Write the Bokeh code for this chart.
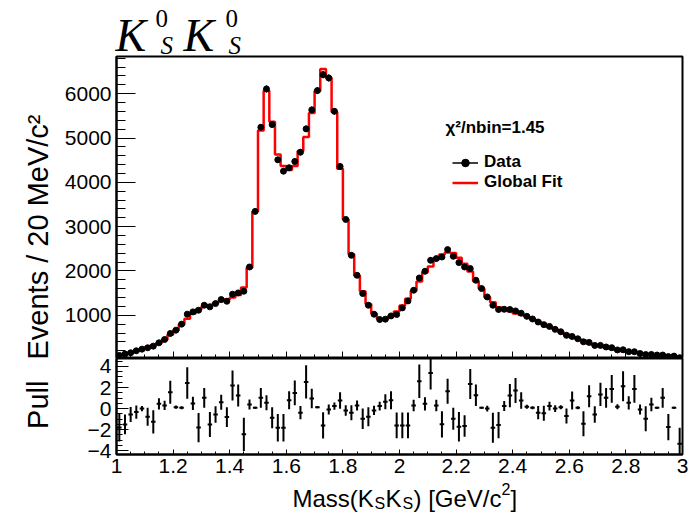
import numpy as np
from bokeh.plotting import figure
from bokeh.layouts import column, row
from bokeh.models import (Label, Range1d, SingleIntervalTicker, ColumnDataSource,
                          Legend, LegendItem, CustomJSTickFormatter)
from bokeh.embed import file_html
from bokeh.resources import INLINE

# ---------------- data ----------------
x_lo, x_hi, bin_w = 1.0, 3.0, 0.02

data_counts = [95, 124, 154, 199, 236, 267, 304, 379, 454, 589,
               664, 800, 1025, 1077, 1115, 1227, 1190, 1265, 1355, 1317,
               1475, 1505, 1543, 2090, 3345, 5243, 6108, 5304, 4509, 4252,
               4329, 4471, 4680, 5207, 5635, 6070, 6430, 6356, 5604, 4358,
               3164, 2354, 1903, 1491, 1227, 1025, 905, 912, 986, 1018,
               1167, 1324, 1565, 1842, 1993, 2241, 2279, 2315, 2482, 2331,
               2189, 2090, 2054, 1791, 1604, 1414, 1227, 1131, 1136, 1131,
               1099, 1047, 977, 917, 849, 789, 749, 683, 628, 548,
               522, 470, 402, 388, 320, 321, 285, 269, 218, 222,
               180, 178, 138, 114, 117, 103, 103, 69, 79, 44]

fit_counts = [110, 138, 162, 200, 236, 278, 322, 375, 450, 560,
              660, 790, 920, 1040, 1130, 1190, 1235, 1280, 1320, 1355,
              1400, 1460, 1630, 2072, 3340, 5169, 6065, 5367, 4631, 4370,
              4276, 4371, 4707, 5024, 5563, 6059, 6557, 6362, 5586, 4307,
              3170, 2380, 1895, 1545, 1256, 1038, 920, 915, 985, 1085,
              1220, 1375, 1556, 1760, 1973, 2100, 2265, 2372, 2415, 2405,
              2300, 2165, 1990, 1770, 1600, 1410, 1292, 1182, 1128, 1089,
              1042, 1010, 972, 915, 860, 802, 742, 683, 625, 565,
              505, 468, 432, 365, 330, 298, 268, 240, 215, 193,
              173, 155, 139, 125, 113, 102, 93, 85, 78, 72]

pull_vals = [-1.8, -1.5, -0.55, -0.33, 0.0, -0.77, -1.25, 0.45, 0.3, 1.55,
             0.14, 0.08, 2.43, 0.49, -1.8, 1.02, -1.5, -0.55, 0.61, -0.8,
             2.19, 1.25, -2.44, 0.39, 0.08, 1.02, 0.55, -0.87, -1.81, -1.81,
             0.8, 1.49, -0.39, 2.53, 0.96, 0.14, -1.59, -0.08, 0.24, 0.77,
             -0.17, -0.39, 0.3, -0.96, -0.77, -0.17, 0.24, 0.64, 0.8, -1.59,
             -1.59, -1.59, 0.3, 2.59, 0.45, 3.38, 0.3, -1.49, 1.65, -0.96,
             -1.72, -1.65, 2.34, 1.27, 0.08, 0.0, -1.81, -1.56, 0.24, 1.24,
             1.71, 0.77, 0.17, 0.08, -0.39, -0.45, 0.24, 0.0, 0.14, -0.71,
             0.77, 0.08, -1.43, 1.18, -0.55, 1.34, 1.02, 1.87, 0.17, 2.12,
             0.55, 1.87, -0.08, -0.96, 0.39, 0.08, 1.02, -1.75, 0.08, -3.32]

pull_errs = [1.32, 0.94, 0.71, 0.63, 0.24, 0.85, 1.1, 0.54, 0.44, 1.1,
             0.16, 0.14, 1.49, 0.63, 1.39, 0.94, 1.18, 0.78, 0.71, 0.94,
             1.42, 1.04, 1.58, 0.47, 0.1, 0.94, 0.71, 0.99, 1.3, 1.3,
             0.85, 1.18, 0.63, 1.58, 0.92, 0.1, 1.25, 0.47, 0.35, 0.78,
             0.5, 0.71, 0.47, 0.97, 0.9, 0.44, 0.42, 0.71, 0.85, 1.23,
             1.23, 1.23, 0.55, 1.58, 0.63, 1.58, 0.55, 1.25, 1.18, 1.04,
             1.39, 1.02, 1.42, 1.02, 0.1, 0.28, 1.42, 1.25, 0.47, 1.1,
             1.18, 0.78, 0.19, 0.14, 0.63, 0.71, 0.42, 0.31, 0.19, 0.71,
             0.85, 0.14, 1.18, 1.04, 0.78, 1.1, 0.94, 1.32, 0.24, 1.42,
             0.63, 1.32, 0.47, 1.18, 0.63, 0.1, 0.94, 1.25, 0.1, 1.51]

chi2_text = "\u03c7\u00b2/nbin=1.45"
y_title = "Events / 20 MeV/c\u00b2"
pull_title = "Pull"

# ---------------- derived ----------------
n = len(data_counts)
centers = x_lo + bin_w * (np.arange(n) + 0.5)
edges = x_lo + bin_w * np.arange(n + 1)
d = np.array(data_counts, dtype=float)
derr = np.sqrt(d)
pv = np.array(pull_vals)
pe = np.array(pull_errs)

FONT = "Liberation Sans"
SERIF = "Liberation Serif"

TOP_Y0, TOP_Y1 = 25, 6840
TOP_FH = 302
BOT_Y0, BOT_Y1 = -4.35, 4.75
BOT_FH = 96
FW = 566

TITLE_H = 55        # page rows 0..55
P_H = 303           # 1 px top border + 302 frame
Q_H = 124
XT_TOP = TITLE_H + P_H + Q_H
XT_H = 521 - XT_TOP + 4


def tx(px):
    return x_lo + (px - 116) * (x_hi - x_lo) / FW


def ty(py):  # top figure, py in page px (frame 56..358)
    return TOP_Y0 + (358 - py) * (TOP_Y1 - TOP_Y0) / TOP_FH


def blank(w, h, y_top_px):
    f = figure(width=w, height=h, x_range=Range1d(0, w),
               y_range=Range1d(y_top_px + h, y_top_px), output_backend="svg",
               toolbar_location=None, x_axis_location=None,
               y_axis_location=None, min_border=0, title=None)
    f.grid.visible = False
    f.outline_line_color = None
    f.background_fill_color = "white"
    f.border_fill_color = "white"
    return f


def lab(fig, x, y, text, size, font=FONT, style="normal", angle=0.0):
    fig.add_layout(Label(x=x, y=y, text=text, text_font=font,
                         text_font_size=size, text_font_style=style,
                         text_baseline="alphabetic", text_align="left",
                         angle=angle, text_color="black"))


# ---------------- title figure ----------------
tf = blank(696, TITLE_H, 0)
for kx, zx, sx in [(115, 155, 160), (183, 225, 228)]:
    lab(tf, kx, 35, "K", "46px", SERIF, "italic")
    lab(tf, zx, 18, "0", "25px", SERIF)
    lab(tf, sx, 45, "S", "25px", SERIF, "italic")

# ---------------- top figure ----------------
p = figure(frame_width=FW, frame_height=TOP_FH, x_range=Range1d(x_lo, x_hi),
           y_range=Range1d(TOP_Y0, TOP_Y1), output_backend="svg",
           toolbar_location=None, min_border_left=56, min_border_right=14,
           min_border_top=1, min_border_bottom=0, title=None)
p.grid.visible = False
p.outline_line_color = "black"
p.outline_line_width = 2
p.background_fill_color = "white"
p.border_fill_color = "white"

p.yaxis.ticker = SingleIntervalTicker(interval=1000, num_minor_ticks=5)
p.yaxis.major_tick_in = 19
p.yaxis.major_tick_out = 0
p.yaxis.minor_tick_in = 9
p.yaxis.minor_tick_out = 0
p.yaxis.major_label_text_font = FONT
p.yaxis.major_label_text_font_size = "21px"
p.yaxis.major_label_text_color = "black"
p.yaxis.major_label_standoff = 5
p.yaxis.axis_line_width = 2

p.xaxis.ticker = SingleIntervalTicker(interval=0.2, num_minor_ticks=4)
p.xaxis.major_tick_in = 7
p.xaxis.major_tick_out = 0
p.xaxis.minor_tick_in = 4
p.xaxis.minor_tick_out = 0
p.xaxis.major_label_text_font_size = "1px"
p.xaxis.major_label_text_color = None
p.xaxis.major_label_standoff = 0
p.xaxis.axis_line_width = 2

src = ColumnDataSource(dict(x=centers, y=d, lo=d - derr, hi=d + derr))
err_r = p.segment(x0="x", y0="lo", x1="x", y1="hi", source=src,
                  line_color="black", line_width=1.5)
fit_y = list(fit_counts) + [fit_counts[-1]]
fit_r = p.step(x=edges, y=fit_y, mode="after", line_color="#ff0000",
               line_width=2.5)
dot_r = p.scatter(x="x", y="y", source=src, size=6, color="black")

legend = Legend(items=[LegendItem(label="Data", renderers=[err_r, dot_r]),
                       LegendItem(label="Global Fit", renderers=[fit_r])],
                location=(336, 166), orientation="vertical",
                border_line_alpha=0, background_fill_alpha=0,
                glyph_width=26, glyph_height=19, label_height=19,
                spacing=0, padding=0, margin=0, label_standoff=6,
                label_text_font=FONT, label_text_font_size="17px",
                label_text_font_style="bold", label_text_color="black")
p.add_layout(legend)

p.add_layout(Label(x=tx(445), y=ty(127), text=chi2_text, text_font=FONT,
                   text_font_size="17px", text_font_style="bold",
                   text_baseline="alphabetic", text_color="black"))

# left title strip for the top panel
lp = blank(60, P_H, TITLE_H)
lab(lp, 37, 359, y_title, "29px", angle=np.pi / 2)

# ---------------- bottom (pull) figure ----------------
q = figure(frame_width=FW, frame_height=BOT_FH, x_range=p.x_range,
           y_range=Range1d(BOT_Y0, BOT_Y1), output_backend="svg",
           toolbar_location=None, min_border_left=56, min_border_right=14,
           min_border_top=0, min_border_bottom=Q_H - BOT_FH, title=None)
q.grid.visible = False
q.outline_line_color = "black"
q.outline_line_width = 2
q.background_fill_color = "white"
q.border_fill_color = "white"

q.yaxis.ticker = SingleIntervalTicker(interval=2, num_minor_ticks=4)
q.yaxis.major_tick_in = 12
q.yaxis.major_tick_out = 0
q.yaxis.minor_tick_in = 6
q.yaxis.minor_tick_out = 0
q.yaxis.major_label_text_font = FONT
q.yaxis.major_label_text_font_size = "21px"
q.yaxis.major_label_text_color = "black"
q.yaxis.major_label_standoff = 5
q.yaxis.axis_line_width = 2

q.xaxis.ticker = SingleIntervalTicker(interval=0.2, num_minor_ticks=4)
q.xaxis.formatter = CustomJSTickFormatter(
    code="return (Math.round(tick*10)/10).toString();")
q.xaxis.major_tick_in = 5
q.xaxis.major_tick_out = 0
q.xaxis.minor_tick_in = 3
q.xaxis.minor_tick_out = 0
q.xaxis.major_label_text_font = FONT
q.xaxis.major_label_text_font_size = "21px"
q.xaxis.major_label_text_color = "black"
q.xaxis.major_label_standoff = 4
q.xaxis.axis_line_width = 2

psrc = ColumnDataSource(dict(x=centers, y=pv, lo=pv - pe, hi=pv + pe,
                             xl=centers - 0.4 * bin_w, xr=centers + 0.4 * bin_w))
q.segment(x0="x", y0="lo", x1="x", y1="hi", source=psrc,
          line_color="black", line_width=2)
q.segment(x0="xl", y0="y", x1="xr", y1="y", source=psrc,
          line_color="black", line_width=2)

lq = blank(60, Q_H, TITLE_H + P_H)
lab(lq, 37, 449, pull_title, "29px", angle=np.pi / 2)

# ---------------- x-axis title strip ----------------
xt = blank(696, XT_H, XT_TOP)
parts = [("Mass(K", 292, 498, "24px"), ("S", 374, 503, "16px"),
         ("K", 385, 498, "24px"), ("S", 402, 503, "16px"),
         (") [GeV/c", 413, 498, "24px"), ("2", 501, 488, "16px"),
         ("]", 510, 498, "24px")]
for t, px, py, fs in parts:
    lab(xt, px, py, t, fs)

layout = column(tf, row(lp, p, spacing=0), row(lq, q, spacing=0), xt, spacing=0)
open("out.html", "w").write(file_html(layout, INLINE))
